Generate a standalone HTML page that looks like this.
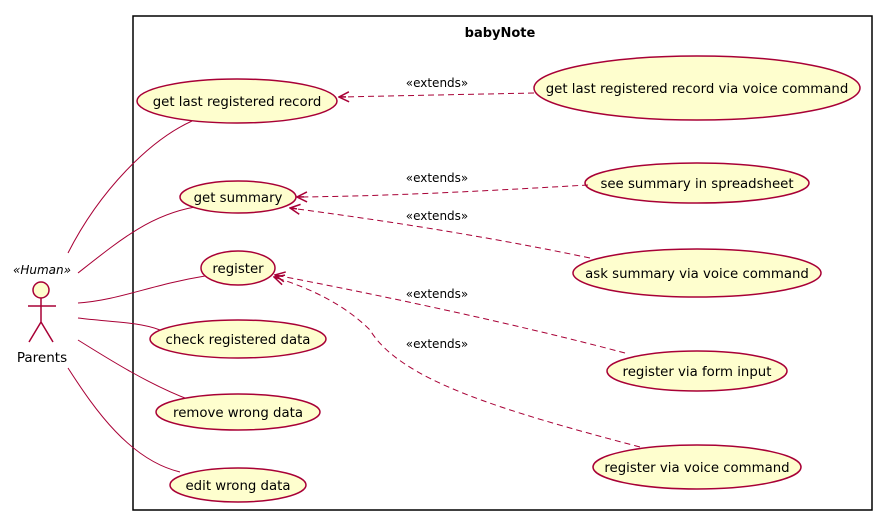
<!DOCTYPE html>
<html><head><meta charset="utf-8"><style>html,body{margin:0;padding:0;background:#fff;}svg{display:block;}</style></head>
<body>
<svg width="878" height="521" viewBox="0 0 878 521" xmlns="http://www.w3.org/2000/svg" font-family="'DejaVu Sans','Liberation Sans',sans-serif">
<defs>
<marker id="ar" viewBox="0 0 12 12" refX="11" refY="6" markerWidth="12" markerHeight="12" orient="auto" markerUnits="userSpaceOnUse">
<path d="M1,1 L11,6 L1,11 M11,6 L4,6" fill="none" stroke="#A80036" stroke-width="1.5" stroke-dasharray="none"/>
</marker>
</defs>
<rect x="133" y="16" width="739" height="494" fill="#fff" stroke="#000" stroke-width="1.5"/>
<text x="500" y="37" text-anchor="middle" font-size="13" font-weight="bold">babyNote</text>

<g stroke="#A80036" fill="none" stroke-width="1">
<path d="M68,253 C100,190 150,140 192,121"/>
<path d="M78,273 C120,240 150,215 195,207"/>
<path d="M78,303 C120,300 150,285 205,276"/>
<path d="M78,318 C110,322 140,322 160,330"/>
<path d="M78,340 C110,360 150,385 190,400"/>
<path d="M68,368 C95,410 130,460 180,472"/>
</g>
<g fill="#FEFECE" stroke="#A80036" stroke-width="1.5">
<ellipse cx="237" cy="101" rx="100" ry="22"/>
<ellipse cx="697" cy="88" rx="163" ry="32"/>
<ellipse cx="238" cy="197" rx="58" ry="16"/>
<ellipse cx="697" cy="183" rx="112" ry="20"/>
<ellipse cx="697" cy="273" rx="124" ry="24"/>
<ellipse cx="238" cy="268" rx="37" ry="17"/>
<ellipse cx="697" cy="371" rx="90" ry="20"/>
<ellipse cx="697" cy="467" rx="104" ry="22"/>
<ellipse cx="238" cy="339" rx="88" ry="19"/>
<ellipse cx="238" cy="412" rx="82" ry="18"/>
<ellipse cx="238" cy="485" rx="68" ry="17"/>
</g>
<g stroke="#A80036" fill="none" stroke-width="1" stroke-dasharray="6,4">
<path d="M534,93 L339,97" marker-end="url(#ar)"/>
<path d="M588,185 C500,190 400,196 297,197" marker-end="url(#ar)"/>
<path d="M590,258 C480,235 380,220 290,208" marker-end="url(#ar)"/>
<path d="M625,353 C520,325 380,295 275,275" marker-end="url(#ar)"/>
<path d="M640,447 C500,410 400,380 370,330 C340,300 300,285 274,277" marker-end="url(#ar)"/>
</g>
<g font-size="12" fill="#000" text-anchor="middle">
<text x="437" y="87">«extends»</text>
<text x="437" y="182">«extends»</text>
<text x="437" y="220">«extends»</text>
<text x="437" y="298">«extends»</text>
<text x="437" y="348">«extends»</text>
</g>
<g font-size="13.3" fill="#000" text-anchor="middle">
<text x="237" y="106">get last registered record</text>
<text x="697" y="93">get last registered record via voice command</text>
<text x="238" y="202">get summary</text>
<text x="697" y="188">see summary in spreadsheet</text>
<text x="697" y="278">ask summary via voice command</text>
<text x="238" y="273">register</text>
<text x="697" y="376">register via form input</text>
<text x="697" y="472">register via voice command</text>
<text x="238" y="344">check registered data</text>
<text x="238" y="417">remove wrong data</text>
<text x="238" y="490">edit wrong data</text>
</g>
<g stroke="#A80036" stroke-width="1.5" fill="none">
<circle cx="41" cy="290" r="8" fill="#FEFECE"/>
<path d="M41,298 L41,322 M28,306 L56,306 M41,322 L29,342 M41,322 L53,342"/>
</g>
<text x="42" y="274" text-anchor="middle" font-size="12" font-style="italic">«Human»</text>
<text x="42" y="362" text-anchor="middle" font-size="13.5">Parents</text>
</svg>
</body></html>
